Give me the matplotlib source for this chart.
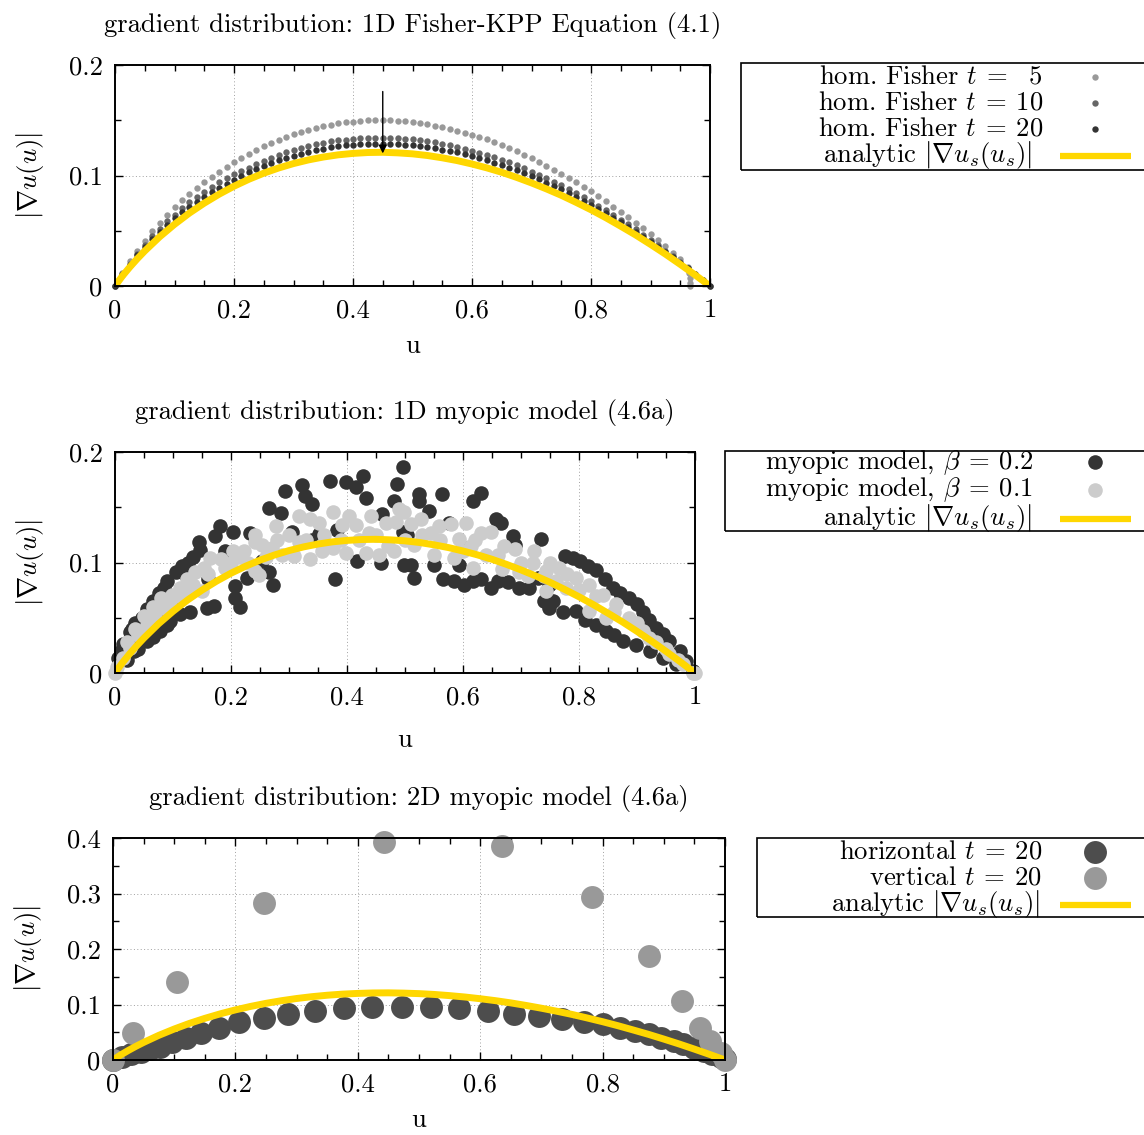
import numpy as np
import matplotlib.pyplot as plt
from matplotlib.lines import Line2D
from matplotlib.patches import Rectangle
from matplotlib.ticker import FormatStrFormatter, MultipleLocator

plt.rcParams['font.family'] = 'serif'
plt.rcParams['font.serif'] = ['cmr10']
plt.rcParams['mathtext.fontset'] = 'cm'
plt.rcParams['axes.formatter.use_mathtext'] = True
plt.rcParams['axes.unicode_minus'] = False

W, H = 1144, 1135
FS = 19.2
GOLD = '#ffd700'

# analytic |grad u_s(u_s)|
u_an = [0, 0.0125, 0.025, 0.0375, 0.05, 0.075, 0.1, 0.125, 0.15, 0.175, 0.2, 0.225, 0.25,
        0.275, 0.3, 0.325, 0.35, 0.375, 0.4, 0.425, 0.45, 0.475, 0.5, 0.525, 0.55, 0.575,
        0.6, 0.625, 0.65, 0.675, 0.7, 0.725, 0.75, 0.775, 0.8, 0.825, 0.85, 0.875, 0.9,
        0.925, 0.95, 0.975, 1.0]
g_an = [0, 0.0091, 0.0172, 0.0247, 0.0317, 0.0445, 0.0558, 0.0660, 0.0750, 0.0831, 0.0903,
        0.0966, 0.1021, 0.1068, 0.1108, 0.1141, 0.1167, 0.1187, 0.1200, 0.1208, 0.1210,
        0.1205, 0.1196, 0.1181, 0.1160, 0.1135, 0.1104, 0.1069, 0.1029, 0.0983, 0.0933,
        0.0879, 0.0821, 0.0757, 0.0690, 0.0618, 0.0541, 0.0462, 0.0377, 0.0289, 0.0196,
        0.0100, 0]

# panel 1: homogeneous Fisher at t = 5, 10, 20
u_fk = np.linspace(0, 1, 81)
g_t10 = [0, 0.0107, 0.0203, 0.0291, 0.0372, 0.0448, 0.0518, 0.0584, 0.0645, 0.0703, 0.0757,
         0.0807, 0.0855, 0.0899, 0.0940, 0.0977, 0.1011, 0.1038, 0.1072, 0.1103, 0.1133,
         0.1160, 0.1185, 0.1209, 0.1230, 0.1249, 0.1267, 0.1282, 0.1295, 0.1308, 0.1318,
         0.1325, 0.1332, 0.1338, 0.1341, 0.1343, 0.1343, 0.1341, 0.1338, 0.1333, 0.1328,
         0.1320, 0.1311, 0.1300, 0.1288, 0.1274, 0.1260, 0.1243, 0.1225, 0.1207, 0.1187,
         0.1164, 0.1142, 0.1118, 0.1091, 0.1064, 0.1036, 0.1007, 0.0976, 0.0944, 0.0911,
         0.0876, 0.0840, 0.0804, 0.0766, 0.0726, 0.0686, 0.0644, 0.0601, 0.0557, 0.0513,
         0.0466, 0.0418, 0.0371, 0.0321, 0.0270, 0.0218, 0.0165, 0.0111, 0.0057, 0]
g_t20 = [0, 0.0102, 0.0193, 0.0277, 0.0354, 0.0425, 0.0492, 0.0553, 0.0611, 0.0666, 0.0716,
         0.0763, 0.0806, 0.0847, 0.0885, 0.0924, 0.0962, 0.0996, 0.1029, 0.1059, 0.1087,
         0.1113, 0.1137, 0.1160, 0.1180, 0.1198, 0.1215, 0.1230, 0.1243, 0.1255, 0.1264,
         0.1272, 0.1278, 0.1283, 0.1287, 0.1289, 0.1289, 0.1287, 0.1283, 0.1279, 0.1274,
         0.1266, 0.1258, 0.1247, 0.1235, 0.1223, 0.1209, 0.1193, 0.1176, 0.1158, 0.1138,
         0.1117, 0.1096, 0.1072, 0.1047, 0.1021, 0.0994, 0.0966, 0.0936, 0.0905, 0.0874,
         0.0840, 0.0806, 0.0771, 0.0735, 0.0697, 0.0658, 0.0618, 0.0576, 0.0535, 0.0492,
         0.0447, 0.0402, 0.0356, 0.0308, 0.0259, 0.0209, 0.0159, 0.0107, 0.0054, 0]
u_t5 = list(u_fk[:77]) + [0.9625, 0.9655, 0.967, 0.967, 0.966]
g_t5 = [0, 0.0118, 0.0224, 0.0321, 0.0410, 0.0494, 0.0572, 0.0644, 0.0712, 0.0777, 0.0835,
        0.0890, 0.0941, 0.0990, 0.1035, 0.1076, 0.1120, 0.1159, 0.1198, 0.1233, 0.1266,
        0.1296, 0.1324, 0.1350, 0.1374, 0.1395, 0.1415, 0.1432, 0.1447, 0.1461, 0.1472,
        0.1481, 0.1488, 0.1494, 0.1498, 0.1500, 0.1500, 0.1498, 0.1494, 0.1489, 0.1483,
        0.1474, 0.1464, 0.1452, 0.1438, 0.1424, 0.1407, 0.1389, 0.1369, 0.1348, 0.1326,
        0.1301, 0.1276, 0.1249, 0.1219, 0.1189, 0.1157, 0.1125, 0.1090, 0.1054, 0.1018,
        0.0978, 0.0939, 0.0898, 0.0856, 0.0811, 0.0766, 0.0719, 0.0671, 0.0622, 0.0573,
        0.0521, 0.0467, 0.0414, 0.0358, 0.0301, 0.0243,
        0.0170, 0.0120, 0.0070, 0.0030, 0.0]

# panel 2: myopic model, beta = 0.2 (dark) and beta = 0.1 (light)
u_b2 = [0.1815, 0.203, 0.173, 0.144, 0.146, 0.125, 0.105, 0.084, 0.066, 0.046, 0.026, 0.014,
        0.006, 0.032, 0.055, 0.078, 0.095, 0.112, 0.130, 0.158, 0.170, 0.207, 0.207, 0.228,
        0.233, 0.02, 0.04, 0.065, 0.09, 0.035, 0.056, 0.075, 0.09, 0.115, 0.135,
        0.01, 0.03, 0.045, 0.07, 0.085, 0.1, 0.12, 0.16, 0.19, 0.215,
        0.293, 0.322, 0.328, 0.340, 0.370, 0.399, 0.415, 0.427, 0.432, 0.487, 0.496, 0.481,
        0.266, 0.287, 0.305, 0.351, 0.340, 0.383, 0.418, 0.458, 0.380, 0.266, 0.272, 0.254,
        0.461, 0.498, 0.496,
        0.524, 0.524, 0.563, 0.542, 0.617, 0.631, 0.657, 0.666, 0.686, 0.576, 0.504, 0.510,
        0.516, 0.550, 0.565, 0.585, 0.602, 0.617, 0.631, 0.648, 0.660, 0.677, 0.697, 0.714,
        0.735, 0.740, 0.749, 0.608, 0.593, 0.689, 0.729,
        0.775, 0.801, 0.830, 0.859, 0.887, 0.910, 0.933, 0.956, 0.974, 0.985, 0.997, 0.755,
        0.772, 0.795, 0.847, 0.876, 0.899, 0.922, 0.945, 0.968, 0.749, 0.79, 0.815, 0.845,
        0.87, 0.90, 0.92, 0.945, 0.81, 0.83, 0.86]
g_b2 = [0.133, 0.128, 0.124, 0.119, 0.111, 0.100, 0.091, 0.077, 0.065, 0.050, 0.037, 0.026,
        0.014, 0.020, 0.029, 0.038, 0.047, 0.053, 0.055, 0.059, 0.061, 0.068, 0.079, 0.086,
        0.127, 0.012, 0.022, 0.033, 0.043, 0.045, 0.058, 0.072, 0.083, 0.097, 0.105,
        0.020, 0.040, 0.030, 0.050, 0.060, 0.065, 0.090, 0.085, 0.110, 0.060,
        0.165, 0.170, 0.160, 0.153, 0.174, 0.173, 0.168, 0.178, 0.158, 0.171, 0.186, 0.156,
        0.149, 0.145, 0.128, 0.126, 0.120, 0.129, 0.101, 0.100, 0.085, 0.091, 0.080, 0.101,
        0.144, 0.098, 0.128,
        0.162, 0.156, 0.162, 0.147, 0.156, 0.163, 0.139, 0.136, 0.124, 0.136, 0.125, 0.098,
        0.086, 0.098, 0.085, 0.083, 0.080, 0.083, 0.085, 0.077, 0.083, 0.082, 0.077, 0.077,
        0.121, 0.065, 0.059, 0.113, 0.098, 0.116, 0.086,
        0.106, 0.101, 0.093, 0.077, 0.068, 0.055, 0.041, 0.029, 0.020, 0.011, 0.002, 0.065,
        0.055, 0.056, 0.038, 0.029, 0.025, 0.020, 0.014, 0.008, 0.080, 0.104, 0.097, 0.085,
        0.072, 0.062, 0.048, 0.035, 0.048, 0.043, 0.034]
u_b1 = [0.0, 0.003, 0.014, 0.026, 0.040, 0.055, 0.069, 0.084, 0.098, 0.112, 0.124, 0.138,
        0.153, 0.164, 0.182, 0.204, 0.222, 0.242, 0.242, 0.135, 0.150, 0.02, 0.035, 0.05,
        0.065, 0.08, 0.095, 0.11, 0.125,
        0.16, 0.19, 0.2, 0.215, 0.23, 0.26, 0.28, 0.33, 0.36, 0.39, 0.42, 0.45, 0.47,
        0.242, 0.254, 0.277, 0.271, 0.288, 0.308, 0.317, 0.337, 0.351, 0.375, 0.337, 0.357,
        0.375, 0.398, 0.403, 0.392, 0.415, 0.441, 0.438, 0.432, 0.455, 0.467, 0.481, 0.490,
        0.484, 0.248, 0.300, 0.317, 0.357,
        0.498, 0.510, 0.527, 0.516, 0.545, 0.559, 0.579, 0.605, 0.593, 0.585, 0.617, 0.631,
        0.648, 0.640, 0.668, 0.689, 0.697, 0.712, 0.723, 0.550, 0.614, 0.740, 0.660,
        0.5, 0.53, 0.56, 0.6, 0.62, 0.67, 0.7, 0.72,
        0.743, 0.766, 0.795, 0.818, 0.841, 0.864, 0.887, 0.910, 0.933, 0.956, 0.980, 0.997,
        0.818, 0.847, 0.778, 0.743, 0.761, 1.0,
        0.75, 0.78, 0.8, 0.83, 0.86, 0.9, 0.92, 0.95, 0.97]
g_b1 = [0.0, 0.005, 0.014, 0.023, 0.034, 0.043, 0.052, 0.059, 0.071, 0.077, 0.085, 0.091,
        0.095, 0.104, 0.103, 0.110, 0.110, 0.119, 0.092, 0.080, 0.074, 0.028, 0.040, 0.052,
        0.060, 0.068, 0.062, 0.070, 0.075,
        0.090, 0.095, 0.100, 0.105, 0.100, 0.105, 0.120, 0.120, 0.125, 0.120, 0.120, 0.125, 0.115,
        0.125, 0.116, 0.133, 0.113, 0.107, 0.106, 0.142, 0.139, 0.136, 0.146, 0.103, 0.110,
        0.113, 0.109, 0.142, 0.134, 0.134, 0.142, 0.127, 0.109, 0.107, 0.136, 0.110, 0.148,
        0.137, 0.089, 0.125, 0.119, 0.116,
        0.146, 0.135, 0.139, 0.116, 0.127, 0.133, 0.135, 0.136, 0.121, 0.104, 0.095, 0.127,
        0.128, 0.107, 0.094, 0.112, 0.091, 0.088, 0.110, 0.107, 0.115, 0.088, 0.107,
        0.120, 0.125, 0.120, 0.110, 0.120, 0.115, 0.100, 0.100,
        0.092, 0.095, 0.086, 0.080, 0.071, 0.062, 0.050, 0.038, 0.028, 0.017, 0.008, 0.0,
        0.056, 0.050, 0.077, 0.074, 0.083, 0.0,
        0.100, 0.090, 0.075, 0.070, 0.055, 0.045, 0.032, 0.022, 0.012]

# panel 3: 2D myopic model, horizontal and vertical at t = 20
u_hor = [0, 0.015, 0.03, 0.045, 0.06, 0.076, 0.096, 0.119, 0.143, 0.173, 0.206, 0.246, 0.286,
         0.330, 0.377, 0.424, 0.472, 0.519, 0.566, 0.612, 0.656, 0.696, 0.734, 0.769, 0.801,
         0.829, 0.853, 0.876, 0.896, 0.916, 0.932, 0.949, 0.966, 0.979, 0.993, 1.0]
g_hor = [0, 0.005, 0.010, 0.015, 0.019, 0.024, 0.032, 0.040, 0.049, 0.058, 0.068, 0.075, 0.082,
         0.088, 0.093, 0.095, 0.096, 0.095, 0.093, 0.089, 0.083, 0.079, 0.074, 0.068, 0.064,
         0.057, 0.052, 0.046, 0.040, 0.034, 0.028, 0.022, 0.016, 0.010, 0.006, 0.001]
u_ver = [0, 0.032, 0.104, 0.246, 0.442, 0.635, 0.782, 0.876, 0.930, 0.959, 0.975, 0.993, 1.0]
g_ver = [0, 0.049, 0.141, 0.283, 0.392, 0.385, 0.293, 0.187, 0.107, 0.058, 0.034, 0.013, 0.0]

labels_1 = [r'hom. Fisher $t\:=\:\enspace 5$', r'hom. Fisher $t\:=\:10$', r'hom. Fisher $t\:=\:20$',
            r'analytic $|\nabla u_s(u_s)|$']
labels_2 = [r'myopic model, $\beta\:=\:0.2$', r'myopic model, $\beta\:=\:0.1$',
            r'analytic $|\nabla u_s(u_s)|$']
labels_3 = [r'horizontal $t\:=\:20$', r'vertical $t\:=\:20$', r'analytic $|\nabla u_s(u_s)|$']


def px(x, y):
    return x / W, 1 - y / H


def fig_rect(left, top, right, bottom):
    return [left / W, 1 - bottom / H, (right - left) / W, (bottom - top) / H]


def style_axes(ax, ymax, title, xpad):
    ax.set_xlim(0, 1)
    ax.set_ylim(0, ymax)
    ax.xaxis.set_major_locator(MultipleLocator(0.2))
    ax.xaxis.set_minor_locator(MultipleLocator(0.05))
    ax.yaxis.set_major_locator(MultipleLocator(0.1))
    ax.yaxis.set_minor_locator(MultipleLocator(0.05))
    ax.xaxis.set_major_formatter(FormatStrFormatter('%g'))
    ax.yaxis.set_major_formatter(FormatStrFormatter('%g'))
    ax.tick_params(which='both', direction='in', top=True, right=True, labelsize=FS, width=1.0)
    ax.tick_params(which='major', length=6, pad=9)
    ax.tick_params(which='minor', length=4.5)
    ax.grid(True, which='major', ls=(0, (1, 2.5)), color='#a0a0a0', lw=0.7)
    for s in ax.spines.values():
        s.set_linewidth(1.4)
    ax.set_title(title, fontsize=FS, pad=24)
    ax.set_xlabel('u', fontsize=FS, labelpad=xpad)
    ax.set_ylabel(r'$|\nabla u(u)|$', fontsize=FS, labelpad=16)


def add_key(labels, keys, text_right, baselines, box):
    # keys: (kind, colour, size); rows share the marker column at x = 1095 px
    for lab, (kind, col, size), xr, yb in zip(labels, keys, text_right, baselines):
        fig.text(*px(xr, yb), lab, ha='right', va='baseline', fontsize=FS)
        yc = yb - 6.5
        if kind == 'line':
            fig.add_artist(Line2D([1060 / W, 1131 / W], [1 - yc / H] * 2, color=col, lw=size,
                                  transform=fig.transFigure, solid_capstyle='butt'))
        else:
            fig.add_artist(Line2D([1095 / W], [1 - yc / H], ls='none', marker='o', ms=size,
                                  mew=0, color=col, transform=fig.transFigure))
    left, top, bottom = box
    fig.add_artist(Rectangle(px(left, bottom), (W + 20 - left) / W, (bottom - top) / H,
                             transform=fig.transFigure, fill=False, ec='black', lw=1.2,
                             clip_on=False))


fig = plt.figure(figsize=(W / 100, H / 100), dpi=100)

# ---- panel 1
ax1 = fig.add_axes(fig_rect(115, 65, 710, 286))
ax1.plot(u_t5, g_t5, 'o', ms=4.6, color='#999999', mew=0, clip_on=False)
ax1.plot(u_fk, g_t10, 'o', ms=4.6, color='#666666', mew=0, clip_on=False)
ax1.plot(u_fk, g_t20, 'o', ms=4.6, color='#333333', mew=0, clip_on=False)
ax1.plot(u_an, g_an, color=GOLD, lw=5)
ax1.annotate('', xy=(0.45, 0.12), xytext=(0.45, 0.176),
             arrowprops=dict(arrowstyle='-|>', color='black', lw=1.0, mutation_scale=12,
                             shrinkA=0, shrinkB=0))
style_axes(ax1, 0.2, 'gradient distribution: 1D Fisher-KPP Equation (4.1)', 8.5)
add_key(labels_1,
        [('dot', '#999999', 4.6), ('dot', '#666666', 4.6), ('dot', '#333333', 4.6), ('line', GOLD, 4.5)],
        [1043, 1043, 1043, 1032], [83.3, 109.6, 135.9, 162.2], (741, 63, 170))

# ---- panel 2
ax2 = fig.add_axes(fig_rect(115, 452, 695, 673))
ax2.plot(u_b2, g_b2, 'o', ms=10.5, color='#333333', mew=0, clip_on=False)
ax2.plot(u_b1, g_b1, 'o', ms=10.5, color='#cccccc', mew=0, clip_on=False)
ax2.plot(u_an, g_an, color=GOLD, lw=5)
style_axes(ax2, 0.2, 'gradient distribution: 1D myopic model (4.6a)', 13.5)
add_key(labels_2,
        [('dot', '#333333', 10.5), ('dot', '#cccccc', 10.5), ('line', GOLD, 4.5)],
        [1033, 1033, 1032], [469, 496.5, 525], (725, 451, 531))

# ---- panel 3
ax3 = fig.add_axes(fig_rect(113, 838, 725, 1060))
ax3.plot(u_hor, g_hor, 'o', ms=16.5, color='#4d4d4d', mew=0, clip_on=False)
ax3.plot(u_ver, g_ver, 'o', ms=16.5, color='#999999', mew=0, clip_on=False)
ax3.plot(u_an, g_an, color=GOLD, lw=5)
style_axes(ax3, 0.4, 'gradient distribution: 2D myopic model (4.6a)', 8.5)
add_key(labels_3,
        [('dot', '#4d4d4d', 16.5), ('dot', '#999999', 16.5), ('line', GOLD, 4.5)],
        [1042, 1042, 1040], [858.3, 884.8, 911.5], (757, 838, 917))

fig.savefig('out.png', dpi=100)
